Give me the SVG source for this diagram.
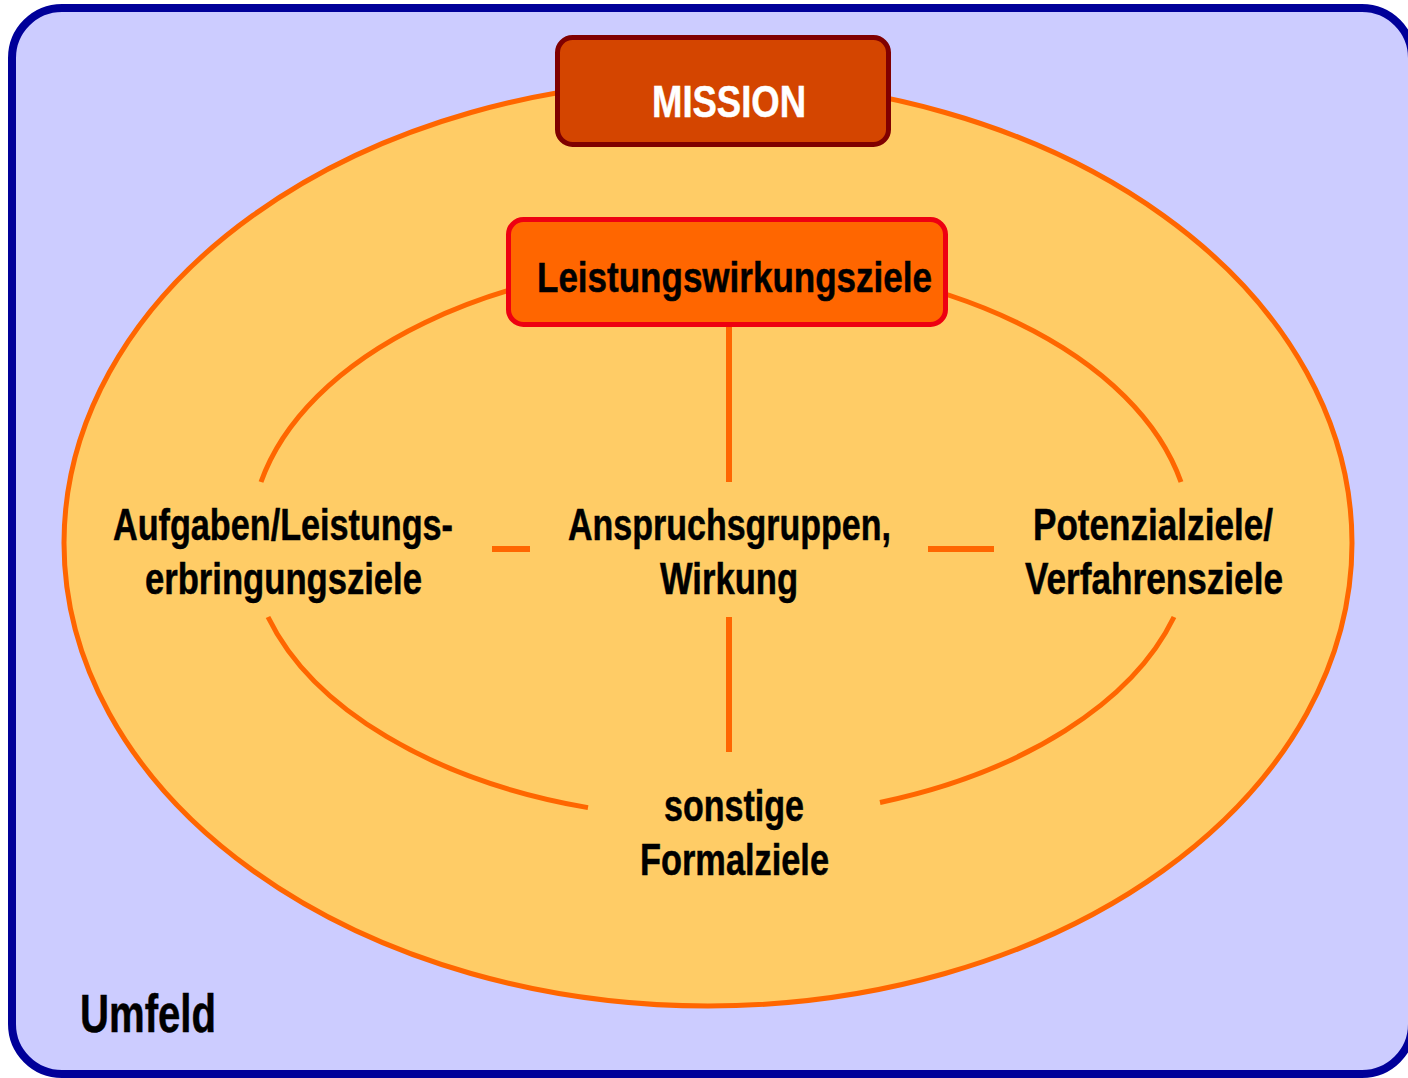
<svg xmlns="http://www.w3.org/2000/svg" width="1408" height="1078" viewBox="0 0 1408 1078">
  <style>
    .lbl { font-family: "Liberation Sans Narrow", "Liberation Sans", Arial, sans-serif; font-weight: bold; fill: #000000; stroke: #000000; stroke-width: 0.5; }
    .ring { fill: none; stroke: #FF6600; stroke-width: 5; }
    .link { stroke: #FF6600; stroke-width: 6; fill: none; }
  </style>

  <!-- environment frame -->
  <g id="umfeld">
    <rect x="12" y="8" width="1400" height="1066" rx="50" ry="50" fill="#CCCCFF" stroke="#000099" stroke-width="8"/>
    <text class="lbl" x="80" y="1032" font-size="54" textLength="136" lengthAdjust="spacingAndGlyphs">Umfeld</text>
  </g>

  <!-- outer ellipse -->
  <g id="outer-ring">
    <ellipse cx="708" cy="543" rx="644" ry="463" fill="#FFCC66" stroke="#FF6600" stroke-width="5"/>
  </g>

  <!-- inner ring segments and links between goals -->
  <g id="connectors">
    <path class="ring" d="M 261 482 A 470 279 0 0 1 1181 482"/>
    <path class="ring" d="M 268 617 A 470 279 0 0 0 588 807.6"/>
    <path class="ring" d="M 880 802.5 A 470 279 0 0 0 1174 617"/>
    <line class="link" x1="729" y1="326" x2="729" y2="482"/>
    <line class="link" x1="729" y1="617" x2="729" y2="752"/>
    <line class="link" x1="492" y1="549" x2="530" y2="549"/>
    <line class="link" x1="928" y1="549" x2="994" y2="549"/>
  </g>

  <g id="mission">
    <rect x="557.5" y="37.5" width="331" height="107" rx="15" ry="15" fill="#D44500" stroke="#800000" stroke-width="5"/>
    <text class="lbl" x="652" y="117" font-size="45" style="fill:#FFFFFF;stroke:#FFFFFF" textLength="154" lengthAdjust="spacingAndGlyphs">MISSION</text>
  </g>

  <g id="leistungswirkungsziele">
    <rect x="508.5" y="219.5" width="437" height="105" rx="15" ry="15" fill="#FF6600" stroke="#EE0011" stroke-width="5"/>
    <text class="lbl" x="537" y="292" font-size="43" textLength="395" lengthAdjust="spacingAndGlyphs">Leistungswirkungsziele</text>
  </g>

  <g id="aufgaben">
    <text class="lbl" x="113" y="540" font-size="44" textLength="340" lengthAdjust="spacingAndGlyphs">Aufgaben/Leistungs-</text>
    <text class="lbl" x="145" y="594" font-size="44" textLength="277" lengthAdjust="spacingAndGlyphs">erbringungsziele</text>
  </g>

  <g id="anspruchsgruppen">
    <text class="lbl" x="568" y="540" font-size="44" textLength="323" lengthAdjust="spacingAndGlyphs">Anspruchsgruppen,</text>
    <text class="lbl" x="660" y="594" font-size="44" textLength="138" lengthAdjust="spacingAndGlyphs">Wirkung</text>
  </g>

  <g id="potenzialziele">
    <text class="lbl" x="1033" y="540" font-size="44" textLength="240" lengthAdjust="spacingAndGlyphs">Potenzialziele/</text>
    <text class="lbl" x="1025" y="594" font-size="44" textLength="258" lengthAdjust="spacingAndGlyphs">Verfahrensziele</text>
  </g>

  <g id="formalziele">
    <text class="lbl" x="664" y="821" font-size="44" textLength="140" lengthAdjust="spacingAndGlyphs">sonstige</text>
    <text class="lbl" x="640" y="875" font-size="44" textLength="189" lengthAdjust="spacingAndGlyphs">Formalziele</text>
  </g>
</svg>
